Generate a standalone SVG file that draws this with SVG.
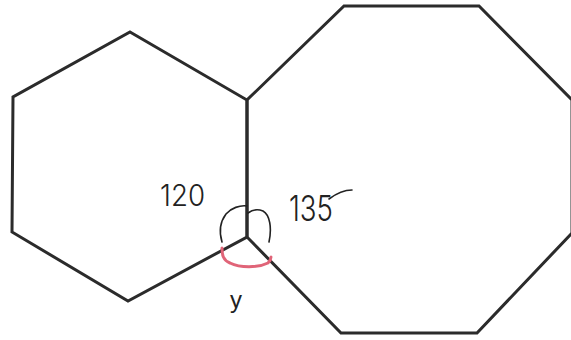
<svg xmlns="http://www.w3.org/2000/svg" width="571" height="340" viewBox="0 0 571 340">
<style>
.shape{fill:none;stroke:#2b2b2b;stroke-width:3;stroke-linejoin:miter}
.hand{fill:none;stroke:#222;stroke-width:1.6;stroke-linecap:round}
.red{fill:none;stroke:#e06478;stroke-width:3;stroke-linecap:round}
.lbl{font-family:"Liberation Sans",Arial,sans-serif;fill:#222}
.hw{font-family:Inter,"DejaVu Sans","Liberation Sans",sans-serif;font-weight:300;fill:#222}
</style>
<rect width="571" height="340" fill="#fff"/>
<g id="hexagon">
<polygon class="shape" points="130,32 247,100 247,237 128,301 12,232 13,97"/>
</g>
<g id="octagon">
<polygon class="shape" points="344,6 479,6 572,100 572,233 477,333 341,333 247,237 247,100"/>
</g>
<g id="angle-marks">
<path class="hand" d="M222,242 C219,232 220,222 226,214 C231,208 240,205 247,206"/>
<path class="hand" d="M248,213 C252,210 258,209 263,211 C270,215 272,228 269,242"/>
<path class="red" d="M222,248 C222,255 223,260 230,263 C240,268 258,268 268,263 C270,261 271,259 271,257"/>
</g>
<g id="labels">
<text class="hw" x="160" y="206" font-size="30" textLength="45" lengthAdjust="spacingAndGlyphs">120</text>
<text class="hw" x="289" y="221" font-size="35" textLength="44" lengthAdjust="spacingAndGlyphs">135</text>
<path class="hand" d="M329,199 C337,193 345,190 352,190"/>
<text class="lbl" x="236" y="308" font-size="24" text-anchor="middle">y</text>
</g>
</svg>
